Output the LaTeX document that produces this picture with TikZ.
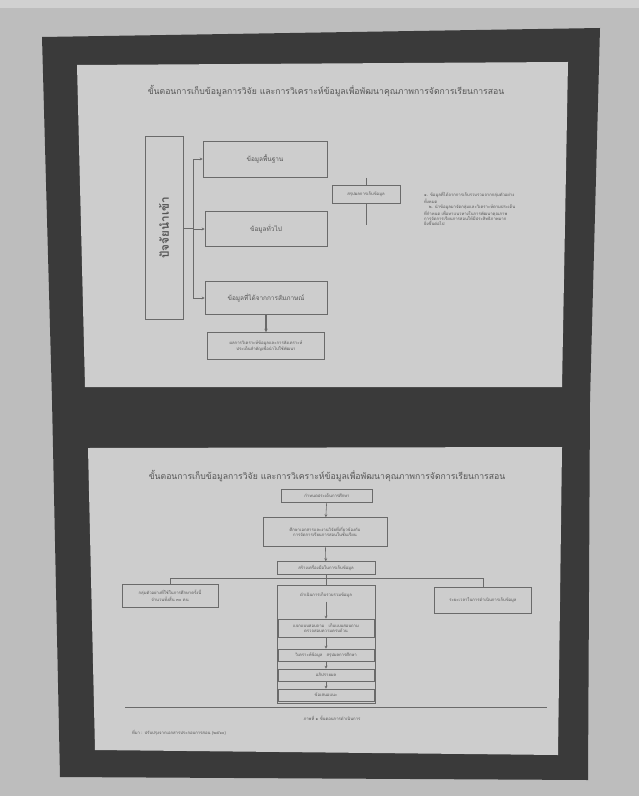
\documentclass[tikz,border=0pt]{standalone}
\usepackage{fontspec}
\newfontfamily\thaifont[Script=Thai]{Loma}
\usetikzlibrary{arrows.meta}

\definecolor{photobg}{HTML}{BDBDBD}
\definecolor{board}{HTML}{3A3A3A}
\definecolor{slide}{HTML}{CDCDCD}
\definecolor{ink}{HTML}{6A6A6A}
\definecolor{tx}{HTML}{555555}

\begin{document}
\begin{tikzpicture} [
    x=0.03cm, y=-0.03cm,
    every node/.style = { font=\thaifont, text=tx },
    block/.style      = { rectangle, draw=ink, line width=0.5pt, text centered,
                          inner sep=1pt },
    size/.style 2 args = { minimum width=#1*0.03cm, minimum height=#2*0.03cm },
    line/.style       = { draw=ink, line width=0.5pt },
    arr/.style        = { line, -{Stealth[length=2.5pt,width=2.5pt]} },
    thickarr/.style   = { draw=ink, line width=1.4pt, -{Stealth[length=3pt,width=3pt]} },
    ttl/.style        = { font=\thaifont\fontsize{7.4}{8}\selectfont },
    boxtext/.style    = { font=\thaifont\fontsize{5.5}{6}\selectfont },
    small/.style      = { font=\thaifont\fontsize{3.6}{4.6}\selectfont, align=center },
  ]

  % photo, board and the two printed slides
  \useasboundingbox (0,0) rectangle (639,796);
  \fill[photobg] (0,0) rectangle (639,796);
  \fill[photobg!70!white] (0,0) rectangle (639,8);
  \fill[board] (42,37) -- (600,28) -- (590,400) -- (588,780) -- (60,777) -- (52,400) -- cycle;
  \fill[slide] (77,65) -- (568,62) -- (562,387) -- (85,387) -- cycle;
  \fill[slide] (88,448) -- (562,447) -- (558,755) -- (95,750) -- cycle;

  % first slide
  \node[ttl] (title1) at (326,91)
    {ขั้นตอนการเก็บข้อมูลการวิจัย และการวิเคราะห์ข้อมูลเพื่อพัฒนาคุณภาพการจัดการเรียนการสอน};

  \node[block, size={183}{38}, rotate=90] (factor) at (164,228)
    {\fontsize{10}{11}\selectfont\bfseries ปัจจัยนำเข้า};
  \node[block, size={124}{36}, boxtext] (data1) at (265,159) {ข้อมูลพื้นฐาน};
  \node[block, size={122}{35}, boxtext] (data2) at (266,229) {ข้อมูลทั่วไป};
  \node[block, size={122}{33}, boxtext] (data3) at (266,298) {ข้อมูลที่ได้จากการสัมภาษณ์};
  \node[block, size={117}{27}, small] (result) at (266,346)
    {ผลการวิเคราะห์ข้อมูลและการสังเคราะห์\\ประเด็นสำคัญเพื่อนำไปใช้พัฒนา};
  \node[block, size={68}{18}, small] (note) at (366,194) {สรุปผลการเก็บข้อมูล};
  \coordinate (notetop) at (366,178);
  \coordinate (notebot) at (366,225);

  \node[small, align=left, text width=112*0.03cm, anchor=north west] (para) at (420,188)
    {๑. ข้อมูลที่ได้จากการเก็บรวบรวมจากกลุ่มตัวอย่าง\\ทั้งหมด\\
     \hspace*{4pt}๒. นำข้อมูลมาจัดกลุ่มและวิเคราะห์ตามประเด็น\\
     ที่กำหนด เพื่อหาแนวทางในการพัฒนาคุณภาพ\\
     การจัดการเรียนการสอนให้มีประสิทธิภาพมาก\\ยิ่งขึ้นต่อไป};

  % connect the nodes
  \path [line] (factor.south) -- ++(10,0) coordinate (fork);
  \path [arr] (fork) |- (data1.west);
  \path [arr] (fork) |- (data2.west);
  \path [arr] (fork) |- (data3.west);
  \path [line] (notetop) -- (note.north);
  \path [line] (note.south) -- (notebot);
  \path [thickarr] (data3) -- (result);

  % second slide
  \node[ttl] (title2) at (327,476)
    {ขั้นตอนการเก็บข้อมูลการวิจัย และการวิเคราะห์ข้อมูลเพื่อพัฒนาคุณภาพการจัดการเรียนการสอน};

  \node[block, size={91}{13}, small] (step1) at (327,496) {กำหนดประเด็นการศึกษา};
  \node[block, size={124}{29}, small] (step2) at (325,532)
    {ศึกษาเอกสารและงานวิจัยที่เกี่ยวข้องกับ\\การจัดการเรียนการสอนในชั้นเรียน};
  \node[block, size={98}{13}, small] (step3) at (326,568) {สร้างเครื่องมือในการเก็บข้อมูล};
  \node[block, size={96}{23}, small] (left) at (170,596)
    {กลุ่มตัวอย่างที่ใช้ในการศึกษาครั้งนี้\\จำนวนทั้งสิ้น ๓๐ คน};
  \node[block, size={97}{26}, small] (right) at (483,600) {ระยะเวลาในการดำเนินการเก็บข้อมูล};
  \node[block, size={98}{118}] (mid) at (326,644) {};

  \node[small] (sub1) at (326,595) {ดำเนินการเก็บรวบรวมข้อมูล};
  \node[block, size={96}{18}, small] (sub2) at (326,628)
    {แจกแบบสอบถาม\quad เก็บแบบสอบถาม\\ตรวจสอบความครบถ้วน};
  \node[block, size={96}{12}, small] (sub3) at (326,655) {วิเคราะห์ข้อมูล\quad สรุปผลการศึกษา};
  \node[block, size={96}{12}, small] (sub4) at (326,675) {อภิปรายผล};
  \node[block, size={96}{12}, small] (sub5) at (326,695) {ข้อเสนอแนะ};

  \path [arr] (step1) -- (step2);
  \path [arr] (step2) -- (step3);
  \path [line] (step3) -- (mid);
  \path [line] (left.north) -- ++(0,-6) -| (right.north);
  \path [arr] (sub1) -- (sub2);
  \path [arr] (sub2) -- (sub3);
  \path [arr] (sub3) -- (sub4);
  \path [arr] (sub4) -- (sub5);

  \draw[line] (125,707) -- (547,707);
  \node[small] (caption) at (332,718) {ภาพที่ ๑ ขั้นตอนการดำเนินการ};
  \node[small, anchor=west] (source) at (128,733) {ที่มา : ปรับปรุงจากเอกสารประกอบการสอน (๒๕๖๐)};
\end{tikzpicture}
\end{document}
